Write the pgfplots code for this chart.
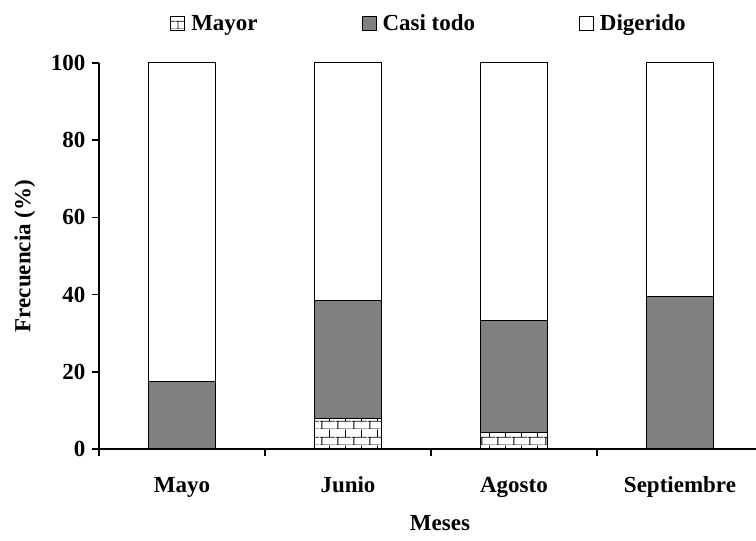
\documentclass[border=0pt]{standalone}
\usepackage{fontspec}
\setmainfont{Liberation Serif}
\usepackage{pgfplots}
\pgfplotsset{compat=1.18}
\usetikzlibrary{patterns}
\pgfdeclarepatternformonly{mybricks}{\pgfpointorigin}{\pgfpoint{16pt}{16pt}}{\pgfpoint{16pt}{16pt}}{
  \pgfsetlinewidth{0.9pt}
  \pgfpathmoveto{\pgfpoint{0pt}{0pt}}\pgfpathlineto{\pgfpoint{16pt}{0pt}}
  \pgfpathmoveto{\pgfpoint{0pt}{8pt}}\pgfpathlineto{\pgfpoint{16pt}{8pt}}
  \pgfpathmoveto{\pgfpoint{2pt}{0pt}}\pgfpathlineto{\pgfpoint{2pt}{8pt}}
  \pgfpathmoveto{\pgfpoint{10pt}{8pt}}\pgfpathlineto{\pgfpoint{10pt}{16pt}}
  \pgfusepath{stroke}}
\newcommand{\lbl}{\bfseries\fontsize{23}{26}\selectfont}
\begin{document}
\begin{tikzpicture}
\begin{axis}[
  scale only axis,
  width=657pt, height=386pt,
  xmin=0, xmax=3.958, ymin=0, ymax=100,
  axis lines=left,
  axis line style={line width=1.6pt,-},
  ybar stacked,
  bar width=0.4,
  xtick={0.5,1.5,2.5,3.5},
  xticklabels={Mayo,Junio,Agosto,Septiembre},
  minor xtick={0,1,2,3},
  major x tick style={draw=none},
  ytick={0,20,40,60,80,100},
  tick align=outside,
  major tick length=7pt, minor tick length=7pt,
  tick style={line width=1.6pt,black},
  /pgf/number format/assume math mode=true,
  tick label style={font=\lbl},
  xticklabel style={yshift=-17pt, text height=16pt, text depth=5pt},
  yticklabel style={xshift=-3pt},
  every axis y label/.style={at={(axis description cs:-0.113,0.5)},rotate=90,anchor=center},
  every axis x label/.style={at={(axis description cs:0.519,-0.192)},anchor=center},
  label style={font=\lbl},
  xlabel={Meses},
  ylabel={Frecuencia (\%)},
  legend columns=3,
  legend style={draw=none, fill=none, at={(0.5008,1.103)}, anchor=center, font=\lbl,
    nodes={inner sep=0pt},
    /tikz/every odd column/.append style={column sep=6pt},
    /tikz/every even column/.append style={column sep=104pt}},
  legend image code/.code={\draw[#1,line width=0.8pt] (0pt,-7pt) rectangle (14pt,7pt);},
]
\addplot[draw=black, line width=1pt, pattern=mybricks] coordinates {(0.5,0) (1.5,7.9) (2.5,4.3) (3.5,0)};
\addplot[draw=black, line width=1pt, fill={rgb,255:red,128;green,128;blue,128}] coordinates {(0.5,17.4) (1.5,30.5) (2.5,28.9) (3.5,39.6)};
\addplot[draw=black, line width=1pt, fill=white] coordinates {(0.5,82.6) (1.5,61.6) (2.5,66.8) (3.5,60.4)};
\legend{Mayor,Casi todo,Digerido}
\end{axis}
\pgfresetboundingbox
\path ([shift={(-99pt,-92pt)}]current axis.south west) rectangle ([shift={(657pt,449pt)}]current axis.south west);
\end{tikzpicture}
\end{document}
